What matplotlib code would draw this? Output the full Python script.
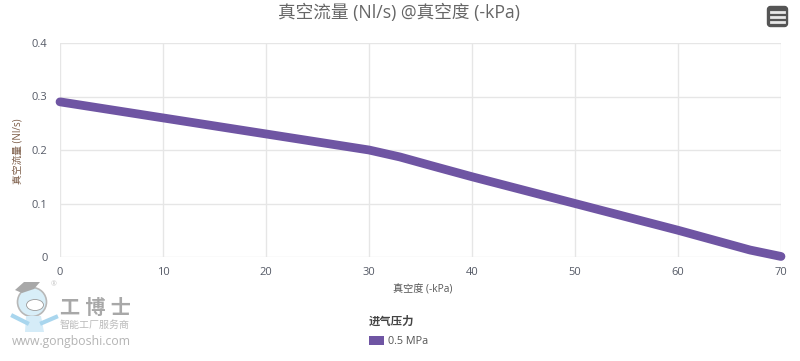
import matplotlib
matplotlib.use('Agg')
import matplotlib.pyplot as plt
from matplotlib.patches import FancyBboxPatch, Circle, Ellipse, Polygon, Rectangle

plt.rcParams['font.family'] = ['Open Sans', 'Noto Sans CJK SC', 'DejaVu Sans']

vacuum = [0, 10, 20, 27, 30, 33, 36, 40, 50, 60, 67, 70]
flow = [0.29, 0.26, 0.23, 0.209, 0.2, 0.187, 0.171, 0.15, 0.1, 0.05, 0.013, 0.001]
x_ticks = [0, 10, 20, 30, 40, 50, 60, 70]
y_ticks = [0, 0.1, 0.2, 0.3, 0.4]
y_labels = ['0', '0.1', '0.2', '0.3', '0.4']
title = '真空流量 (Nl/s) @真空度 (-kPa)'
x_title = '真空度 (-kPa)'
y_title = '真空流量 (Nl/s)'
legend_title = '进气压力'
series_name = '0.5 MPa'

W, H = 800, 361
fig = plt.figure(figsize=(W / 100, H / 100), dpi=100)

# plot area in pixels
ax = fig.add_axes([60 / W, 1 - 257 / H, 721 / W, 214 / H])
ax.set_xlim(0, 70)
ax.set_ylim(0, 0.4)
ax.set_xticks(x_ticks)
ax.set_yticks(y_ticks)
ax.set_yticklabels(y_labels)
ax.grid(color='#e6e6e6', lw=1)
ax.set_axisbelow(True)
for s in ax.spines.values():
    s.set_visible(False)
ax.tick_params(length=0, labelsize=8, labelcolor='#555a66')
ax.tick_params(axis='x', pad=7)
ax.tick_params(axis='y', pad=9)

ax.plot(vacuum, flow, color='#6f55a3', lw=6.3, solid_capstyle='round',
        solid_joinstyle='round', clip_on=False)

# pixel overlay for the things outside the plot
ov = fig.add_axes([0, 0, 1, 1], zorder=5)
ov.set_xlim(0, W)
ov.set_ylim(H, 0)
ov.axis('off')

ov.text(399, 13, title, ha='center', va='center', fontsize=12.7, color='#666666')
ov.text(423, 290, x_title, ha='center', va='center', fontsize=7.3, color='#555555')
ov.text(18, 151, y_title, ha='center', va='center', fontsize=7, color='#7a5a45',
        rotation=90)

# legend
ov.text(392, 322, legend_title, ha='center', va='center', fontsize=8.2,
        fontweight='bold', color='#444444')
ov.add_patch(Rectangle((369, 336), 15, 9, color='#6f55a3', lw=0))
ov.text(388, 341, series_name, ha='left', va='center', fontsize=7.8, color='#555555')

# menu button
ov.add_patch(FancyBboxPatch((767.5, 6.5), 20, 20, boxstyle='round,pad=0,rounding_size=3',
                            fc='#555555', ec='#555555', lw=1))
for yy in (11.5, 16.5, 21.5):
    ov.plot([771, 784], [yy, yy], color='#e8e8e8', lw=2)

# watermark mascot
ov.add_patch(Circle((32, 302), 14.5, fc='#d8eef8', ec='#b8b8b8', lw=1.2))
ov.add_patch(Polygon([[15, 290], [24, 282], [40, 282], [34, 289], [22, 293]], fc='#a8a8a8', lw=0))
ov.add_patch(Ellipse((35, 305), 17, 11, fc='white', ec='#9a9a9a', lw=0.6))
ov.add_patch(Polygon([[26, 316], [41, 316], [44, 332], [25, 332]], fc='#d5ecf8', lw=0))
ov.plot([13, 27], [316, 323], color='#a9d6ee', lw=3)
ov.plot([42, 56], [323, 317], color='#a9d6ee', lw=3)
ov.text(54, 285, '®', ha='center', va='center', fontsize=5, color='#c4c4c4')

ov.text(95, 309, '工 博 士', ha='center', va='center', fontsize=14.5, fontweight='bold',
        color='#a8a8a8')
ov.text(95, 325, '智能工厂服务商', ha='center', va='center', fontsize=7.2, color='#bcbcbc')
ov.text(71, 341, 'www.gongboshi.com', ha='center', va='center', fontsize=8.8,
        color='#b4b4b4')

fig.savefig('out.png', dpi=100, facecolor='white')
